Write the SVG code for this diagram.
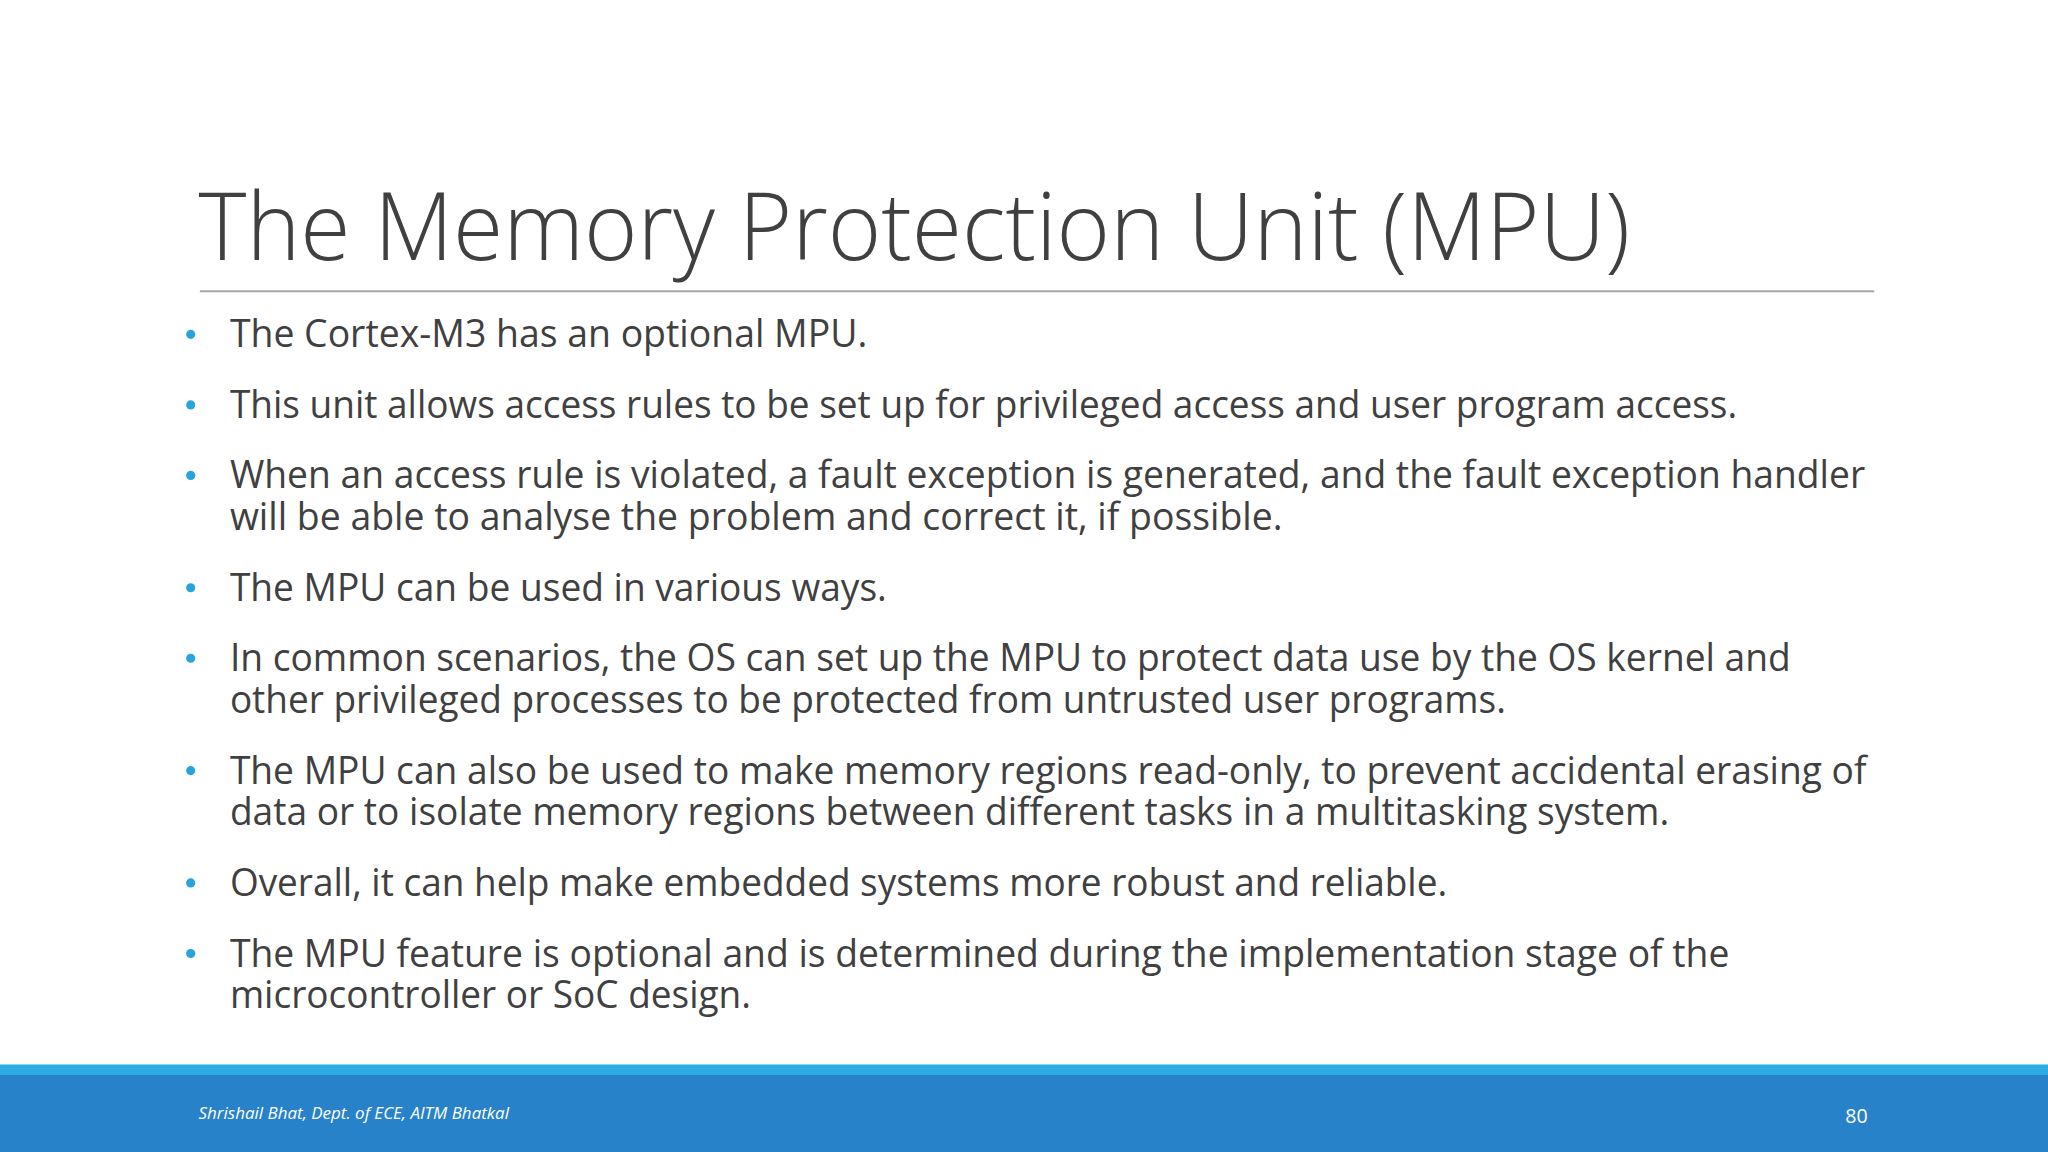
<svg xmlns="http://www.w3.org/2000/svg" width="2048" height="1152" viewBox="0 0 2048 1152">
<style>
.t{font-family:"Open Sans","Liberation Sans",sans-serif;fill:#404040}
.b{font-size:29px}
.d{fill:#29a3dc}
</style>
<rect width="2048" height="1152" fill="#fff"/>
<g transform="scale(1.306122)">
<g id="title"><text class="t" x="152" y="199" font-size="72" font-weight="300" textLength="1096" lengthAdjust="spacingAndGlyphs">The Memory Protection Unit (MPU)</text>
<line x1="153" y1="223" x2="1435" y2="223" stroke="#a6a6a6" stroke-width="1.5"/></g>
<g id="bullets">
<circle class="d" cx="146" cy="256" r="3.5"/><circle class="d" cx="146" cy="310" r="3.5"/><circle class="d" cx="146" cy="364" r="3.5"/><circle class="d" cx="146" cy="450" r="3.5"/><circle class="d" cx="146" cy="504" r="3.5"/><circle class="d" cx="146" cy="590" r="3.5"/><circle class="d" cx="146" cy="676" r="3.5"/><circle class="d" cx="146" cy="730" r="3.5"/>
<text class="t b" x="176" y="266" textLength="488" lengthAdjust="spacingAndGlyphs">The Cortex-M3 has an optional MPU.</text>
<text class="t b" x="176" y="320" textLength="1154" lengthAdjust="spacingAndGlyphs">This unit allows access rules to be set up for privileged access and user program access.</text>
<text class="t b" x="176" y="374" textLength="1252" lengthAdjust="spacingAndGlyphs">When an access rule is violated, a fault exception is generated, and the fault exception handler</text>
<text class="t b" x="176" y="406" textLength="806" lengthAdjust="spacingAndGlyphs">will be able to analyse the problem and correct it, if possible.</text>
<text class="t b" x="176" y="460" textLength="503" lengthAdjust="spacingAndGlyphs">The MPU can be used in various ways.</text>
<text class="t b" x="176" y="514" textLength="1195" lengthAdjust="spacingAndGlyphs">In common scenarios, the OS can set up the MPU to protect data use by the OS kernel and</text>
<text class="t b" x="176" y="546" textLength="977" lengthAdjust="spacingAndGlyphs">other privileged processes to be protected from untrusted user programs.</text>
<text class="t b" x="176" y="600" textLength="1253" lengthAdjust="spacingAndGlyphs">The MPU can also be used to make memory regions read-only, to prevent accidental erasing of</text>
<text class="t b" x="176" y="632" textLength="1102" lengthAdjust="spacingAndGlyphs">data or to isolate memory regions between different tasks in a multitasking system.</text>
<text class="t b" x="176" y="686" textLength="932" lengthAdjust="spacingAndGlyphs">Overall, it can help make embedded systems more robust and reliable.</text>
<text class="t b" x="176" y="740" textLength="1148" lengthAdjust="spacingAndGlyphs">The MPU feature is optional and is determined during the implementation stage of the</text>
<text class="t b" x="176" y="772" textLength="399" lengthAdjust="spacingAndGlyphs">microcontroller or SoC design.</text>
</g>
<g id="footer">
<rect x="0" y="815" width="1568" height="9" fill="#2cace3"/>
<rect x="0" y="823" width="1568" height="60" fill="#2882c9"/>
<text x="152" y="857" font-family="'Open Sans','Liberation Sans',sans-serif" font-size="13" font-style="italic" fill="#fff">Shrishail Bhat, Dept. of ECE, AITM Bhatkal</text>
<text x="1430" y="860" text-anchor="end" font-family="'Open Sans','Liberation Sans',sans-serif" font-size="15" fill="#fff">80</text>
</g>
</g>
</svg>
